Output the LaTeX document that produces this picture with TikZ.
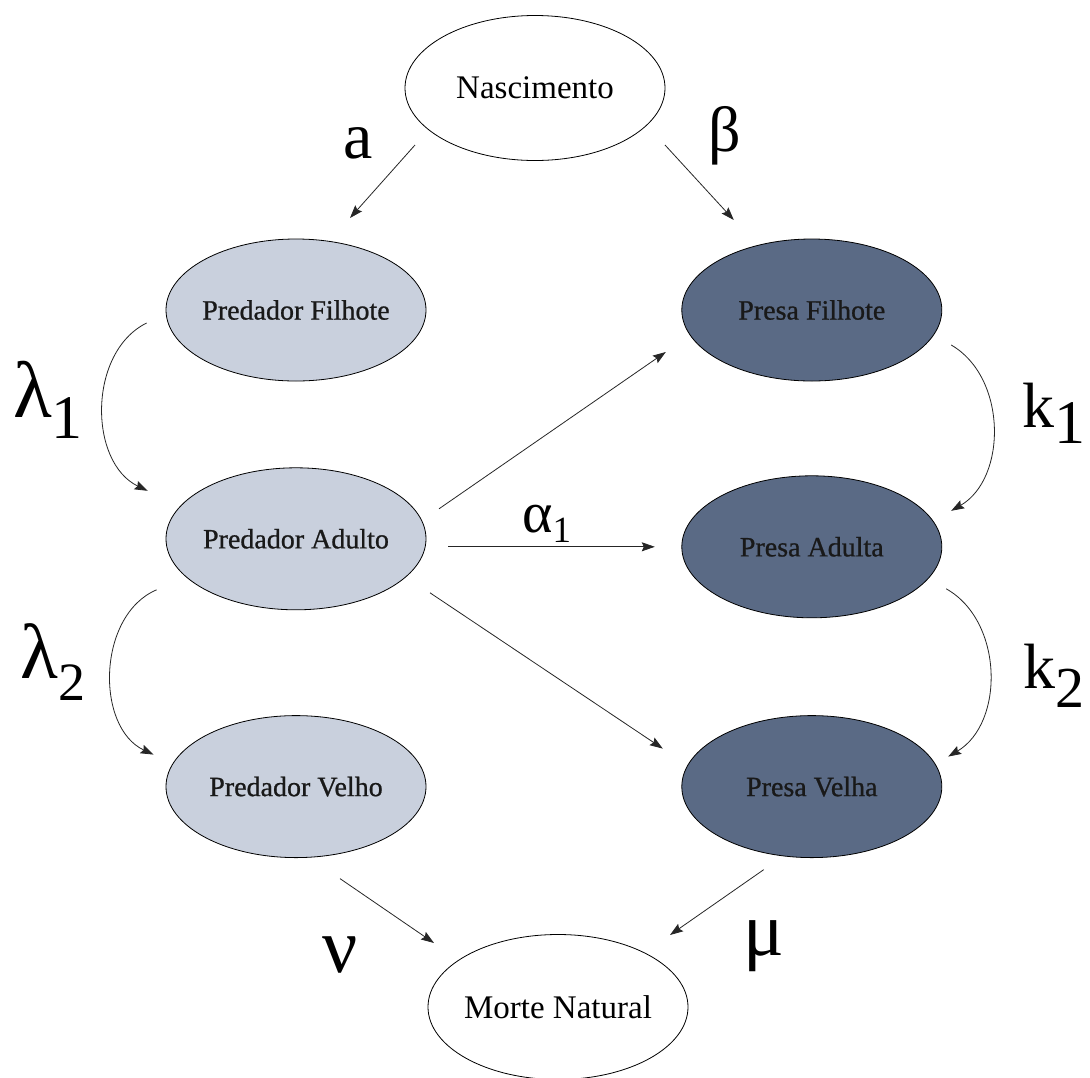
\documentclass[tikz,border=0pt]{standalone}
\usepackage{fontspec}
\setmainfont{Liberation Serif}
\usetikzlibrary{positioning, shapes.geometric, arrows.meta}
\definecolor{predFill}{HTML}{C9D0DD}
\definecolor{presaFill}{HTML}{5A6A85}
\newcommand{\setfs}[1]{\fontsize{#1}{#1}\selectfont}

\begin{document}
\begin{tikzpicture}[x=1pt, y=-1pt,
  classe/.style={ellipse, draw, line width=0.8pt, inner xsep=-8pt, inner ysep=0pt, minimum width=260pt, minimum height=142pt},
  pred/.style={classe, fill=predFill, text=black!90, font=\setfs{28}\addfontfeature{FakeBold=0.8}},
  presa/.style={classe, fill=presaFill, text=black!90, font=\setfs{28}\addfontfeature{FakeBold=0.8}},
  evento/.style={classe, fill=white, minimum height=145pt, font=\setfs{33}},
  taxa/.style={anchor=base west, inner sep=0pt},
  arr/.style={-{Stealth[length=13pt, width=9pt, inset=2pt]}, line width=0.8pt, black!85}
]
\useasboundingbox (0,0) rectangle (1090,1077);

% populacoes
\node[pred] (pf) at (296,310) {Predador Filhote};
\node[pred, below=86pt of pf] (pa) {Predador Adulto};
\node[pred, below=105pt of pa] (pv) {Predador Velho};
\node[presa, right=255pt of pf] (prf) {Presa Filhote};
\node[presa, below=94pt of prf] (pra) {Presa Adulta};
\node[presa, below=97pt of pra] (prv) {Presa Velha};
\node[evento] (nasc) at (535,88) {Nascimento};
\node[evento] (mort) at (558,1007) {Morte Natural};

% nascimentos
\draw[arr] ([shift={(-120,57)}]nasc.center) -- ([shift={(54,-92)}]pf.center);
\draw[arr] ([shift={(130,57)}]nasc.center) -- ([shift={(-78,-90)}]prf.center);

% predacao
\draw[arr] ([shift={(143,-30)}]pa.center) -- ([shift={(-146,42)}]prf.center);
\draw[arr] ([shift={(152,8)}]pa.center) -- ([shift={(-157,0)}]pra.center);
\draw[arr] ([shift={(134,54)}]pa.center) -- ([shift={(-149,-38)}]prv.center);

% envelhecimento
\draw[arr] ([shift={(-19,13)}]pf.west) to[bend right=64] ([shift={(-18,-48)}]pa.west);
\draw[arr] ([shift={(-9,51)}]pa.west) to[bend right=66] ([shift={(-12,-32)}]pv.west);
\draw[arr] ([shift={(9,35)}]prf.east) to[bend left=60] ([shift={(9,-36)}]pra.east);
\draw[arr] ([shift={(4,42)}]pra.east) to[bend left=60] ([shift={(6,-30)}]prv.east);

% mortes
\draw[arr] ([shift={(44,92)}]pv.center) -- ([shift={(-124,-64)}]mort.center);
\draw[arr] ([shift={(-48,83)}]prv.center) -- ([shift={(112,-72)}]mort.center);

% taxas
\node[taxa, font=\setfs{66}] (ta) at (343,158) {a};
\node[taxa, font=\setfs{64}] (tb) at (708,151) {β};
\node[taxa, font=\setfs{80}] (tl1) at (13,417) {λ\raisebox{-21pt}{\setfs{62}1}};
\node[taxa, font=\setfs{78}] (tl2) at (20,678) {λ\raisebox{-22pt}{\setfs{54}2}};
\node[taxa, font=\setfs{64}] (tk1) at (1022,427) {k\raisebox{-16pt}{\setfs{62}1}};
\node[taxa, font=\setfs{64}] (tk2) at (1023,688) {k\raisebox{-19pt}{\setfs{58}2}};
\node[taxa, font=\setfs{58}] (tal) at (522,532) {α\raisebox{-10pt}{\setfs{37}1}};
\node[taxa, font=\setfs{78}] (tnu) at (322,972) {ν};
\node[taxa, font=\setfs{76}] (tmu) at (743,955) {μ};
\end{tikzpicture}
\end{document}
